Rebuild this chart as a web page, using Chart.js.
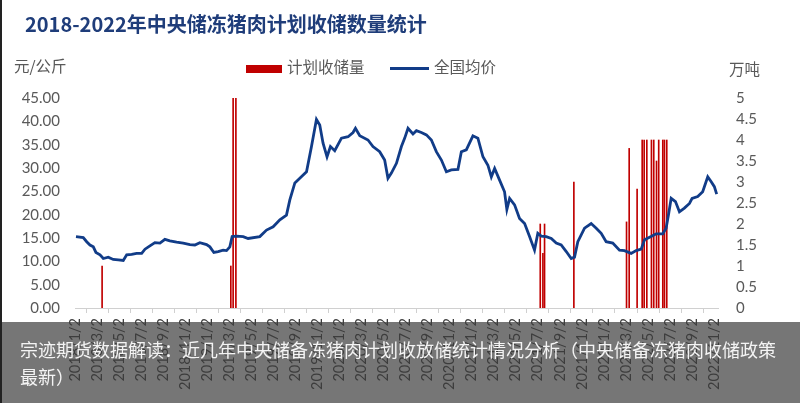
<!DOCTYPE html>
<html lang="zh">
<head>
<meta charset="UTF-8">
<title>2018-2022年中央储冻猪肉计划收储数量统计</title>
<script src="https://cdn.jsdelivr.net/npm/chart.js"></script>
<style>
  html, body { margin: 0; padding: 0; background: #fff; }
  #wrap { position: relative; width: 800px; height: 403px; overflow: hidden; border-left: 2px solid #222; box-sizing: border-box; }
  #chart { position: absolute; left: -2px; top: 0; }
  .txt { position: absolute; font-family: "Noto Sans CJK SC", sans-serif; color: #595959; white-space: nowrap; }
  #title { left: 23px; top: 9px; font-size: 20px; font-weight: bold; color: #1f3d7a; }
  #unitL { left: 12px; top: 54px; font-size: 15.5px; }
  #unitR { left: 727px; top: 57px; font-size: 15.5px; }
  #leg1 { left: 244px; top: 65px; width: 36px; height: 8px; background: #c00000; position: absolute; }
  #leg1t { left: 285px; top: 55px; font-size: 15.5px; }
  #leg2 { left: 388px; top: 67px; width: 39px; height: 3px; background: #113c88; position: absolute; }
  #leg2t { left: 432px; top: 55px; font-size: 15.5px; }
  #band { position: absolute; left: 0; top: 322px; width: 800px; height: 81px; background: rgba(60,60,60,0.7); }
  #bandText { position: absolute; left: 18px; top: 336px; width: 766px; font-family: "Noto Sans CJK SC", sans-serif; font-size: 18px; line-height: 27px; color: #f4f4f4; }
</style>
</head>
<body>
<div id="wrap">
  <canvas id="chart" width="800" height="403"></canvas>
  <div class="txt" id="title">2018-2022年中央储冻猪肉计划收储数量统计</div>
  <div class="txt" id="unitL">元/公斤</div>
  <div class="txt" id="unitR">万吨</div>
  <div id="leg1"></div><div class="txt" id="leg1t">计划收储量</div>
  <div id="leg2"></div><div class="txt" id="leg2t">全国均价</div>
  <div id="band"></div>
  <div id="bandText">宗迹期货数据解读：近几年中央储备冻猪肉计划收放储统计情况分析（中央储备冻猪肉收储政策最新）</div>
</div>
<script>
// x 轴刻度（每两个月一个）
const tickLabels = [
  '2018/1/2','2018/3/2','2018/5/2','2018/7/2','2018/9/2','2018/11/2',
  '2019/1/2','2019/3/2','2019/5/2','2019/7/2','2019/9/2','2019/11/2',
  '2020/1/2','2020/3/2','2020/5/2','2020/7/2','2020/9/2','2020/11/2',
  '2021/1/2','2021/3/2','2021/5/2','2021/7/2','2021/9/2','2021/11/2',
  '2022/1/2','2022/3/2','2022/5/2','2022/7/2','2022/9/2','2022/11/2'
];

// 全国均价：时间（自2018/1/2起的月数）与价格（元/公斤）
const priceMonths = [
  0.09, 0.75, 1.06, 1.36, 1.66, 1.90, 2.27, 2.57, 3.02, 3.47, 3.93, 4.38, 4.69, 5.14, 5.59, 6.05,
  6.35, 6.80, 7.25, 7.71, 8.16, 8.61, 9.22, 9.82, 10.43, 10.88, 11.33, 11.94, 12.24, 12.60, 12.99,
  13.44, 13.75, 14.05, 14.26, 14.66, 15.26, 15.71, 16.77, 17.38, 17.98, 18.59, 19.19, 19.49, 19.95,
  20.40, 21.01, 21.46, 21.91, 22.21, 22.51, 22.87, 23.18, 23.57, 24.18, 24.78, 25.23, 25.45, 25.84,
  26.59, 27.04, 27.65, 28.10, 28.40, 28.71, 29.17, 29.62, 29.92, 30.22, 30.67, 30.98, 31.43, 31.89,
  32.34, 32.79, 33.25, 33.70, 34.15, 34.75, 35.06, 35.51, 36.11, 36.56, 37.02, 37.47, 37.78, 38.08,
  38.53, 38.98, 39.19, 39.44, 39.89, 40.34, 40.80, 41.25, 41.70, 42.00, 42.31, 42.76, 43.22, 43.67,
  44.12, 44.58, 45.03, 45.33, 45.63, 46.24, 46.84, 47.30, 47.75, 48.20, 48.80, 49.41, 49.86, 50.47,
  50.92, 51.38, 51.68, 52.28, 52.74, 53.34, 53.64, 53.88, 54.10, 54.49, 54.85, 55.30, 55.76, 56.00,
  56.51, 56.96, 57.42, 57.72, 58.02, 58.23
];
const priceValues = [
  15.3, 15.1, 14.2, 13.5, 13.1, 11.9, 11.4, 10.6, 10.9, 10.4, 10.3, 10.2, 11.4, 11.5, 11.7, 11.7,
  12.6, 13.3, 14.0, 13.9, 14.7, 14.4, 14.1, 13.9, 13.6, 13.5, 14.0, 13.6, 13.1, 11.9, 12.1,
  12.4, 12.3, 13.1, 15.3, 15.4, 15.3, 14.9, 15.3, 16.7, 17.4, 18.9, 19.9, 23.1, 26.8,
  27.8, 29.2, 34.6, 40.4, 39.2, 35.3, 32.4, 34.6, 33.7, 36.4, 36.7, 37.6, 38.5, 36.9,
  36.0, 34.6, 33.5, 31.7, 27.8, 28.9, 31.0, 34.6, 36.4, 38.5, 37.3, 38.0, 37.6, 37.1,
  36.0, 33.5, 31.7, 29.2, 29.6, 29.7, 33.5, 33.9, 36.9, 36.4, 32.4, 30.6, 28.1, 29.9,
  27.4, 24.9, 21.1, 23.5, 22.1, 19.2, 18.1, 15.3, 12.4, 16.0, 15.4, 15.3, 14.9, 13.9,
  13.5, 12.1, 10.6, 10.9, 14.2, 17.1, 18.1, 17.1, 16.0, 14.2, 13.9, 12.4, 12.3, 11.7,
  12.3, 12.6, 14.6, 15.3, 15.9, 15.9, 17.1, 20.3, 23.5, 22.8, 20.6, 21.4, 22.4, 23.5,
  23.9, 24.9, 28.1, 27.1, 26.0, 24.4
];

// 计划收储量：时间（月数）与数量（万吨）
const storageMonths = [
  2.46, 14.14, 14.35, 14.60, 42.22, 42.46, 42.61, 45.27,
  50.05, 50.29, 51.01, 51.47, 51.65, 51.89, 52.31, 52.52, 52.77, 52.97, 53.34, 53.49, 53.70
];
const storageValues = [
  1.0, 1.0, 5.0, 5.0, 2.0, 1.3, 2.0, 3.0,
  2.05, 3.8, 2.83, 4.0, 4.0, 4.0, 4.0, 4.0, 3.5, 4.0, 4.0, 4.0, 4.0
];

const numFont = { family: 'Lato, "Noto Sans", sans-serif', size: 15 };

new Chart(document.getElementById('chart'), {
  type: 'bar',
  data: {
    datasets: [
      {
        type: 'line',
        label: '全国均价',
        data: priceMonths.map((m, i) => ({ x: m, y: priceValues[i] })),
        borderColor: '#113c88',
        borderWidth: 2.8,
        pointRadius: 0,
        tension: 0,
        yAxisID: 'y',
        order: 1
      },
      {
        type: 'bar',
        label: '计划收储量',
        data: storageMonths.map((m, i) => ({ x: m, y: storageValues[i] })),
        backgroundColor: '#c00000',
        barThickness: 1,
        yAxisID: 'y1',
        order: 2
      }
    ]
  },
  options: {
    responsive: false,
    animation: false,
    layout: { padding: { top: 98, left: 0, right: 0, bottom: 0 } },
    plugins: { legend: { display: false }, tooltip: { enabled: false } },
    scales: {
      x: {
        type: 'linear',
        min: 0,
        max: 58.35,
        offset: false,
        afterBuildTicks: s => { s.ticks = tickLabels.map((l, i) => ({ value: i * 2 })); },
        afterFit: s => { s.height = 95; },
        grid: { drawOnChartArea: false, tickLength: 5, color: '#d0d0d0' },
        border: { color: '#d0d0d0' },
        ticks: {
          autoSkip: false,
          minRotation: 90,
          maxRotation: 90,
          padding: 5,
          color: '#404040',
          font: { family: numFont.family, size: 14.5 },
          callback: (v, i) => tickLabels[i]
        }
      },
      y: {
        position: 'left',
        min: 0,
        max: 45,
        afterFit: s => { s.width = 75; },
        grid: { display: false, drawTicks: false },
        border: { display: false },
        ticks: { stepSize: 5, padding: 15, color: '#595959', font: numFont, callback: v => v.toFixed(2) }
      },
      y1: {
        position: 'right',
        min: 0,
        max: 5,
        afterFit: s => { s.width = 82; },
        grid: { display: false, drawTicks: false },
        border: { display: false },
        ticks: { stepSize: 0.5, padding: 18, color: '#595959', font: numFont, callback: v => String(+v.toFixed(1)) }
      }
    }
  }
});
</script>
</body>
</html>
